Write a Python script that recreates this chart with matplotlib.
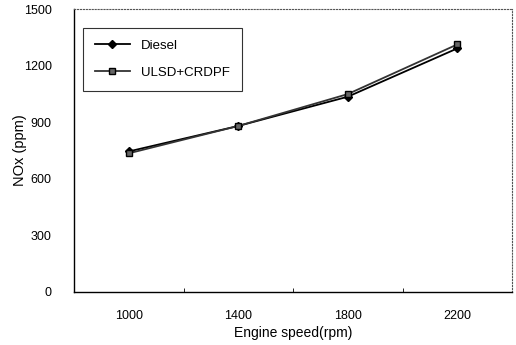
import matplotlib
matplotlib.use("Agg")
import matplotlib.pyplot as plt

plt.rcParams["font.family"] = ["Liberation Sans", "DejaVu Sans"]

speeds = [1000, 1400, 1800, 2200]
nox_diesel = [745, 880, 1035, 1291]
nox_ulsd = [735, 880, 1049, 1312]

fig = plt.figure(figsize=(5.16, 3.45), dpi=100)
ax = fig.add_axes([74 / 516, 1 - 292 / 345, (512 - 74) / 516, (292 - 9) / 345])

ax.plot(speeds, nox_diesel, color="black", linewidth=1.3, marker="D",
        markersize=4, markerfacecolor="black", label="Diesel")
ax.plot(speeds, nox_ulsd, color="#333333", linewidth=1.3, marker="s",
        markersize=5, markerfacecolor="#666666", markeredgecolor="black",
        label="ULSD+CRDPF")

ax.set_xlim(800, 2400)
ax.set_ylim(0, 1500)
ax.set_yticks(range(0, 1501, 300))
ax.set_xticks(speeds)
ax.set_xticks([1200, 1600, 2000], minor=True)
ax.tick_params(axis="x", which="major", length=0, pad=13, labelsize=9)
ax.tick_params(axis="x", which="minor", length=3, direction="in")
ax.tick_params(axis="y", length=0, labelsize=9, pad=16)

# plot-area border: solid left/bottom, dotted top/right
for side in ("top", "right"):
    ax.spines[side].set_linestyle(":")
    ax.spines[side].set_color("#555555")
ax.spines["left"].set_linewidth(1.0)
ax.spines["bottom"].set_linewidth(1.0)

ax.set_xlabel("Engine speed(rpm)", fontsize=10, labelpad=3)
ax.set_ylabel("NOx (ppm)", fontsize=10.5)
ax.yaxis.set_label_coords(-0.107, 0.5)

leg = ax.legend(loc="upper left", bbox_to_anchor=(0.02, 0.933), fontsize=9.5,
                frameon=True, fancybox=False, edgecolor="black",
                handlelength=2.7, borderpad=0.9, labelspacing=1.1,
                borderaxespad=0)
leg.get_frame().set_linewidth(0.8)

fig.savefig("out.png", dpi=100)
plt.close(fig)
